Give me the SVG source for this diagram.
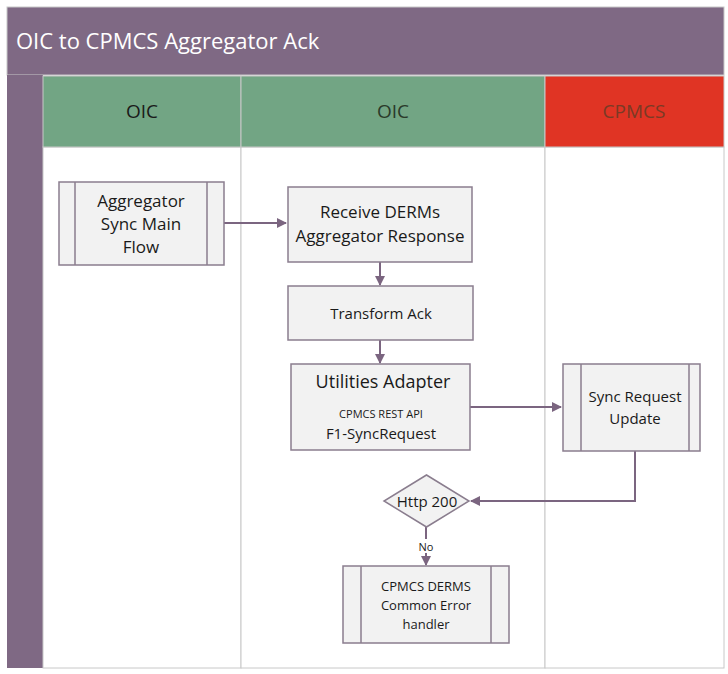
<svg xmlns="http://www.w3.org/2000/svg" width="728" height="674" viewBox="0 0 728 674">
<style>
.t{font-family:"Open Sans","Liberation Sans",sans-serif;fill:#1a1a1a;text-anchor:middle}
.n{fill:#f2f2f2;stroke:#8a7d8e;stroke-width:1.5}
.c{fill:none;stroke:#7b6580;stroke-width:2}
.lane{fill:#fff;stroke:#c8c8c8;stroke-width:1}
</style>
<defs><marker id="a" markerWidth="10" markerHeight="10" refX="9" refY="5" orient="auto" markerUnits="userSpaceOnUse"><path d="M0,0 L10,5 L0,10 Z" fill="#7b6580"/></marker></defs>
<rect x="0" y="0" width="728" height="674" fill="#fff"/>
<g id="pool">
<rect x="7" y="7" width="717" height="68" fill="#7f6984" stroke="#c8c8c8"/>
<text x="16" y="49" font-family="'Open Sans','Liberation Sans',sans-serif" font-size="22" fill="#fff">OIC to CPMCS Aggregator Ack</text>
<rect x="7" y="75" width="36" height="593" fill="#7f6984"/>
<rect class="lane" x="43" y="147" width="198" height="521"/>
<rect class="lane" x="241" y="147" width="304" height="521"/>
<rect class="lane" x="545" y="147" width="179" height="521"/>
<rect x="43" y="76" width="198" height="71" fill="#72a584" stroke="#c8c8c8"/>
<rect x="241" y="76" width="304" height="71" fill="#72a584" stroke="#c8c8c8"/>
<rect x="545" y="76" width="179" height="71" fill="#e03424" stroke="#c8c8c8"/>
<text class="t" x="142" y="118" font-size="19">OIC</text>
<text class="t" x="393" y="118" font-size="19" style="fill:#2a3a2a">OIC</text>
<text class="t" x="634" y="118" font-size="19" style="fill:#7a3a25">CPMCS</text>
</g>
<g id="connectors">
<path class="c" d="M224,223 H286" marker-end="url(#a)"/>
<path class="c" d="M380,262 V285" marker-end="url(#a)"/>
<path class="c" d="M380,340 V363" marker-end="url(#a)"/>
<path class="c" d="M470,407 H561" marker-end="url(#a)"/>
<path class="c" d="M635,451 V501 H471" marker-end="url(#a)"/>
<path class="c" d="M426,527 V565" marker-end="url(#a)"/>
<rect x="416" y="539" width="20" height="14" fill="#fff"/>
<text class="t" x="426" y="551" font-size="11">No</text>
</g>
<g id="n1"><rect class="n" x="59" y="182" width="165" height="83"/><path class="n" d="M75,182V265M207,182V265"/>
<text class="t" x="141" y="207" font-size="17">Aggregator</text><text class="t" x="141" y="230" font-size="17">Sync  Main</text><text class="t" x="141" y="253" font-size="17">Flow</text></g>
<g id="n2"><rect class="n" x="288" y="187" width="184" height="75"/>
<text class="t" x="380" y="218" font-size="17">Receive DERMs</text><text class="t" x="380" y="242" font-size="17">Aggregator Response</text></g>
<g id="n3"><rect class="n" x="288" y="286" width="185" height="54"/>
<text class="t" x="381" y="319" font-size="15">Transform Ack</text></g>
<g id="n4"><rect class="n" x="291" y="364" width="179" height="86"/>
<text class="t" x="383" y="388" font-size="18">Utilities Adapter</text><text class="t" x="381" y="418" font-size="11">CPMCS REST API</text><text class="t" x="381" y="439" font-size="15">F1-SyncRequest</text></g>
<g id="n5"><rect class="n" x="563" y="364" width="137" height="87"/><path class="n" d="M581,364V451M689,364V451"/>
<text class="t" x="635" y="402" font-size="15">Sync Request</text><text class="t" x="635" y="424" font-size="15">Update</text></g>
<g id="n6"><path class="n" d="M426.5,475 L469,501 L426.5,527 L384,501 Z"/>
<text class="t" x="427" y="507" font-size="15">Http 200</text></g>
<g id="n7"><rect class="n" x="343" y="566" width="166" height="77"/><path class="n" d="M361,566V643M491,566V643"/>
<text class="t" x="426" y="591" font-size="13">CPMCS DERMS</text><text class="t" x="426" y="610" font-size="13">Common Error</text><text class="t" x="426" y="629" font-size="13">handler</text></g>
</svg>
